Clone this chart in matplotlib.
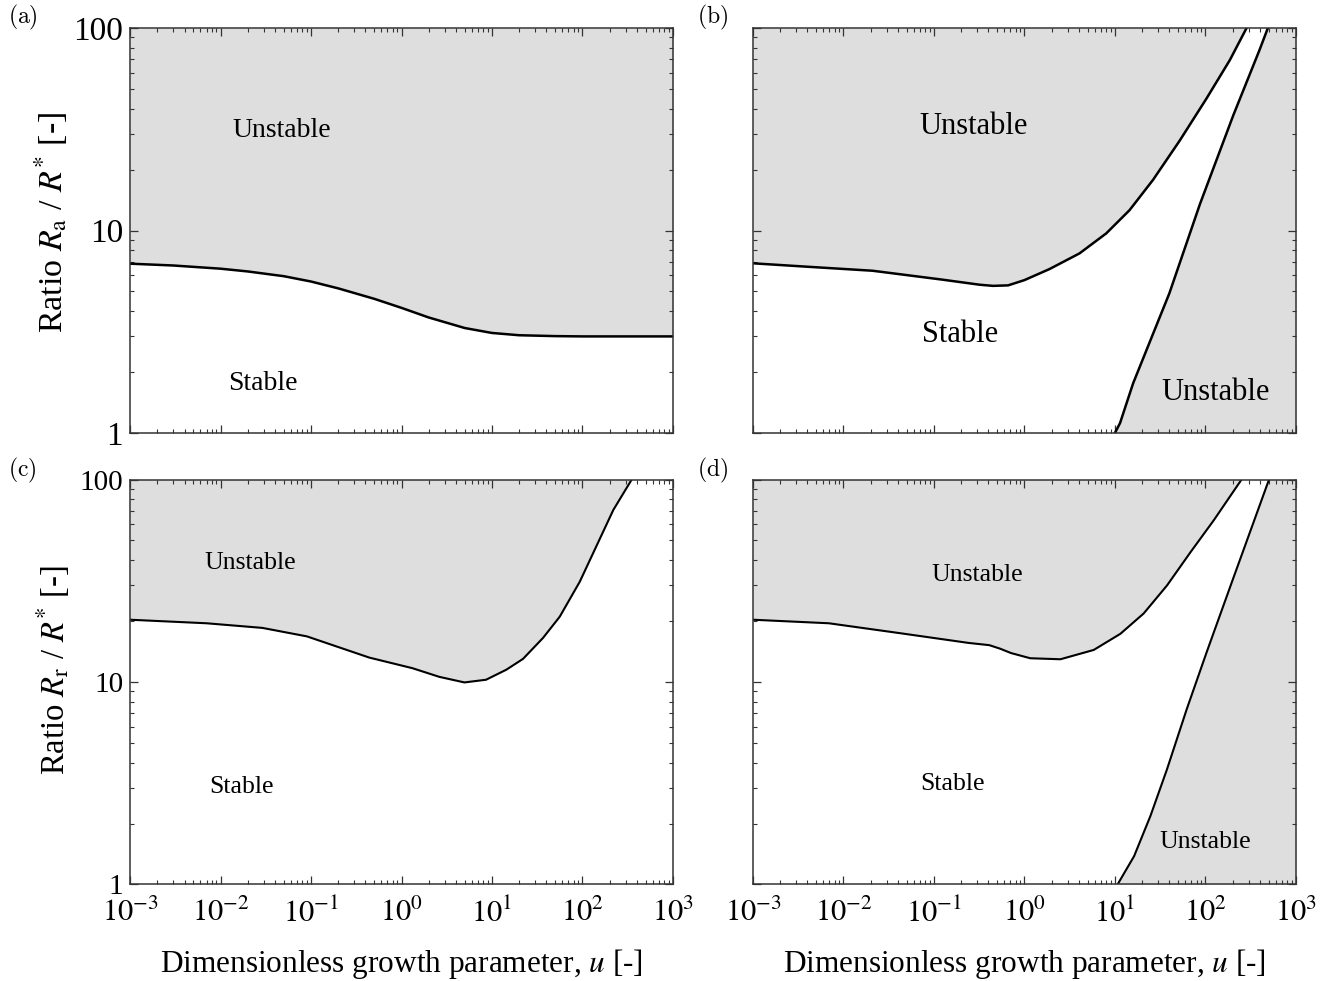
import numpy as np
import matplotlib
matplotlib.use('Agg')
import matplotlib.pyplot as plt
from matplotlib.font_manager import FontProperties
from matplotlib.ticker import LogLocator, NullFormatter, FixedLocator, FixedFormatter

plt.rcParams['font.family'] = ['Liberation Serif', 'DejaVu Serif']
plt.rcParams['mathtext.fontset'] = 'stix'

# (a) stability boundary, R_a / R*
u_a = [1e-3, 3e-3, 1e-2, 2e-2, 5e-2, 0.1, 0.2, 0.5, 1, 2, 5, 10, 20, 50, 100, 1000]
r_a = [6.86, 6.72, 6.48, 6.28, 5.95, 5.6, 5.18, 4.6, 4.15, 3.72, 3.3, 3.12, 3.04, 3.01, 3.0, 3.0]

# (b) upper and lower boundaries
u_b_up = [1e-3, 3.9e-3, 2.1e-2, 0.117, 0.32, 0.45, 0.66, 1.0, 1.89, 4.06, 8.02, 14.5, 26.4, 52, 102.6, 186, 285]
r_b_up = [6.89, 6.63, 6.33, 5.74, 5.40, 5.33, 5.36, 5.69, 6.45, 7.71, 9.68, 12.6, 17.8, 27.8, 44.8, 69.4, 100]
u_b_lo = [10, 11.4, 15.9, 40, 87, 203, 399, 490]
r_b_lo = [1.0, 1.12, 1.76, 4.9, 13.5, 37.0, 78.5, 100]

# (c) stability boundary, R_r / R*
u_c = [1e-3, 7e-3, 0.029, 0.09, 0.44, 1.32, 2.62, 4.96, 8.6, 14.4, 22, 36.6, 56, 93.4, 219, 350]
r_c = [20.3, 19.5, 18.5, 16.8, 13.2, 11.7, 10.6, 9.95, 10.26, 11.5, 13.0, 16.5, 21.0, 31.3, 70.7, 100]

# (d) upper and lower boundaries
u_d_up = [1e-3, 6.9e-3, 0.043, 0.24, 0.41, 0.54, 0.71, 1.16, 2.5, 5.84, 11.5, 20.8, 37.7, 68.3, 124, 251]
r_d_up = [20.3, 19.5, 17.4, 15.6, 15.2, 14.6, 13.9, 13.1, 12.95, 14.4, 17.3, 21.8, 30.0, 43.7, 63.0, 100]
u_d_lo = [10.7, 16.3, 24.7, 37.6, 62, 102.5, 200, 505]
r_d_lo = [1.0, 1.38, 2.18, 3.70, 7.31, 13.9, 31.9, 100]

xlim = (1e-3, 1e3)
ylim = (1, 100)
grey = '#dedede'
xt = [1e-3, 1e-2, 1e-1, 1e0, 1e1, 1e2, 1e3]
xt_labels = ['$10^{-3}$', '$10^{-2}$', '$10^{-1}$', '$10^{0}$', '$10^{1}$', '$10^{2}$', '$10^{3}$']
yt = [1, 10, 100]
yt_labels = ['1', '10', '100']

fig = plt.figure(figsize=(13.35, 9.81), dpi=100)
w, h = 0.4067, 0.4128
ax_a = fig.add_axes([0.0974, 0.5586, w, h])
ax_b = fig.add_axes([0.5640, 0.5586, w, h])
ax_c = fig.add_axes([0.0974, 0.0984, w, h])
ax_d = fig.add_axes([0.5640, 0.0984, w, h])

for ax in [ax_a, ax_b, ax_c, ax_d]:
    ax.set_xscale('log')
    ax.set_yscale('log')
    ax.set_xlim(*xlim)
    ax.set_ylim(*ylim)
    ax.xaxis.set_major_locator(FixedLocator(xt))
    ax.yaxis.set_major_locator(FixedLocator(yt))
    ax.xaxis.set_minor_locator(LogLocator(base=10, subs=np.arange(2, 10), numticks=20))
    ax.yaxis.set_minor_locator(LogLocator(base=10, subs=np.arange(2, 10), numticks=20))
    ax.xaxis.set_minor_formatter(NullFormatter())
    ax.yaxis.set_minor_formatter(NullFormatter())
    ax.tick_params(which='both', direction='in', top=True, right=True, colors='#333333')
    ax.tick_params(which='major', length=6, width=0.9)
    ax.tick_params(which='minor', length=3, width=0.8)
    for s in ax.spines.values():
        s.set_linewidth(1.1)
        s.set_color('#333333')

# shading and curves
ax_a.fill_between(u_a, r_a, ylim[1], color=grey, lw=0)
ax_a.plot(u_a, r_a, color='k', lw=1.8)

ax_b.fill_between(u_b_up, r_b_up, ylim[1], color=grey, lw=0)
ax_b.fill_betweenx(r_b_lo, u_b_lo, xlim[1], color=grey, lw=0)
ax_b.plot(u_b_up, r_b_up, color='k', lw=1.8)
ax_b.plot(u_b_lo, r_b_lo, color='k', lw=1.8)

ax_c.fill_between(u_c, r_c, ylim[1], color=grey, lw=0)
ax_c.plot(u_c, r_c, color='k', lw=1.5)

ax_d.fill_between(u_d_up, r_d_up, ylim[1], color=grey, lw=0)
ax_d.fill_betweenx(r_d_lo, u_d_lo, xlim[1], color=grey, lw=0)
ax_d.plot(u_d_up, r_d_up, color='k', lw=1.5)
ax_d.plot(u_d_lo, r_d_lo, color='k', lw=1.5)

# tick labels
for ax, fs in [(ax_a, 24), (ax_c, 21)]:
    ax.yaxis.set_major_formatter(FixedFormatter(yt_labels))
    ax.tick_params(axis='y', which='major', labelsize=fs, pad=5, labelcolor='k')
for ax in [ax_b, ax_d]:
    ax.yaxis.set_major_formatter(NullFormatter())
for ax in [ax_a, ax_b]:
    ax.xaxis.set_major_formatter(NullFormatter())
for ax in [ax_c, ax_d]:
    ax.xaxis.set_major_formatter(FixedFormatter(xt_labels))
    ax.tick_params(axis='x', which='major', labelsize=22, pad=10, labelcolor='k')
    ax.set_xlabel('Dimensionless growth parameter, $u$ [-]', fontsize=22.5, labelpad=13)

ax_a.set_ylabel('Ratio $R_\\mathrm{a}$ / $R^{*}$ [-]', fontsize=24.5)
ax_a.yaxis.set_label_coords(-0.11, 0.52)
ax_c.set_ylabel('Ratio $R_\\mathrm{r}$ / $R^{*}$ [-]', fontsize=23.5)
ax_c.yaxis.set_label_coords(-0.107, 0.53)

# region labels
ax_a.text(0.048, 31.3, 'Unstable', fontsize=20, ha='center', va='center')
ax_a.text(0.0295, 1.75, 'Stable', fontsize=20, ha='center', va='center')
ax_b.text(0.277, 32.8, 'Unstable', fontsize=22, ha='center', va='center')
ax_b.text(0.194, 3.05, 'Stable', fontsize=22, ha='center', va='center')
ax_b.text(130, 1.59, 'Unstable', fontsize=22, ha='center', va='center')
ax_c.text(0.0212, 38.7, 'Unstable', fontsize=18.5, ha='center', va='center')
ax_c.text(0.0169, 3.03, 'Stable', fontsize=18.5, ha='center', va='center')
ax_d.text(0.2985, 33.8, 'Unstable', fontsize=18.5, ha='center', va='center')
ax_d.text(0.162, 3.13, 'Stable', fontsize=18.5, ha='center', va='center')
ax_d.text(98.7, 1.62, 'Unstable', fontsize=18.5, ha='center', va='center')

# panel letters
cm = FontProperties(family='DejaVu Serif', size=17)
cm.set_math_fontfamily('cm')
for lab, x, y in [('(a)', 0.006, 0.982), ('(b)', 0.522, 0.982),
                  ('(c)', 0.006, 0.520), ('(d)', 0.522, 0.520)]:
    fig.text(x, y, '$\\mathrm{' + lab + '}$', fontproperties=cm, ha='left', va='center')

fig.savefig('out.png', dpi=100)
